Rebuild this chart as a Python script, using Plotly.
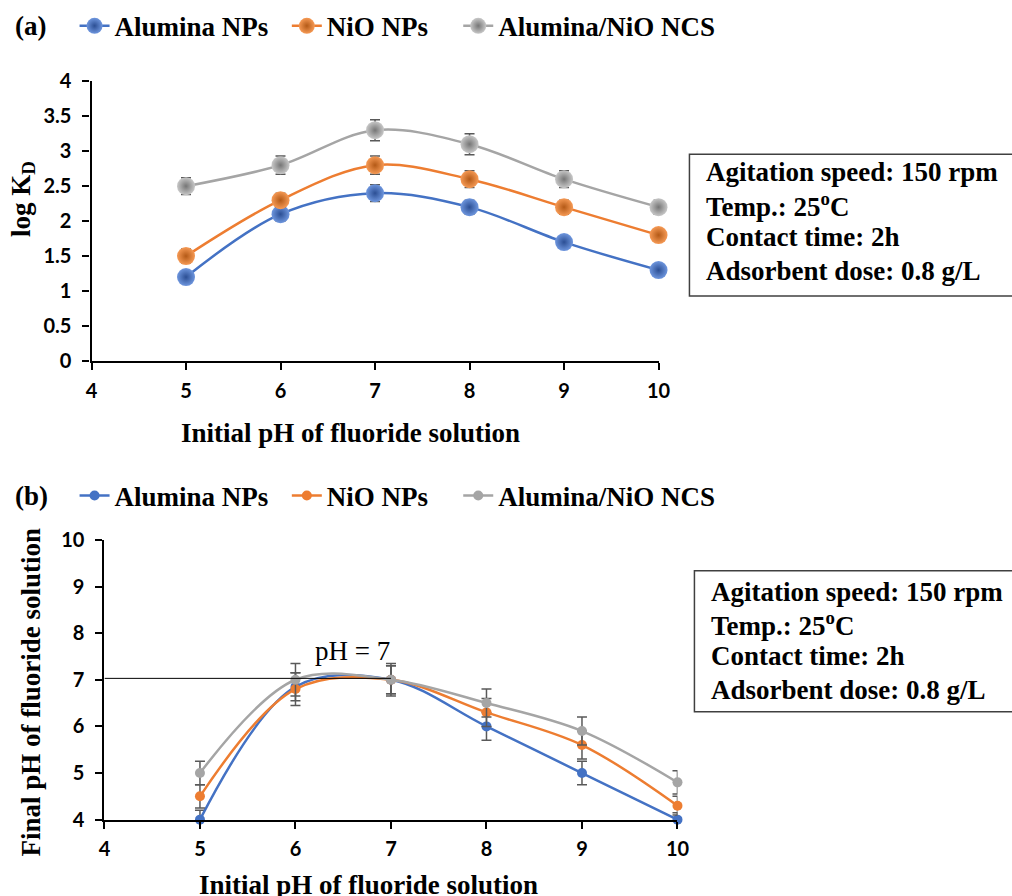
import plotly.graph_objects as go

# ---------------- data ----------------
ph_initial = [5, 6, 7, 8, 9, 10]
series_names = ["Alumina NPs", "NiO NPs", "Alumina/NiO NCS"]
colors = ["#4472C4", "#ED7D31", "#A5A5A5"]
center_colors = ["#6E96DE", "#F69A55", "#C8C8C8"]
edge_colors = ["#2C4F94", "#B45A17", "#767676"]

# panel (a): log KD
logkd_alumina = [1.2, 2.1, 2.4, 2.2, 1.7, 1.3]
logkd_nio = [1.5, 2.3, 2.8, 2.6, 2.2, 1.8]
logkd_ncs = [2.5, 2.8, 3.3, 3.1, 2.6, 2.2]
err_a_alumina = [0.08, 0.1, 0.12, 0.1, 0.08, 0.08]
err_a_nio = [0.1, 0.1, 0.13, 0.12, 0.1, 0.08]
err_a_ncs = [0.12, 0.13, 0.15, 0.15, 0.12, 0.1]

# panel (b): final pH
final_alumina = [4.0, 6.85, 7.0, 6.0, 5.0, 4.0]
final_nio = [4.5, 6.8, 7.0, 6.3, 5.6, 4.3]
final_ncs = [5.0, 7.0, 7.0, 6.5, 5.9, 4.8]
err_b_alumina = [0.2, 0.3, 0.3, 0.3, 0.25, 0.15]
err_b_nio = [0.25, 0.35, 0.3, 0.3, 0.3, 0.2]
err_b_ncs = [0.25, 0.35, 0.35, 0.3, 0.3, 0.25]

neutral_ph = 7

box_lines = ["Agitation speed: 150 rpm", "Temp.: 25<sup>o</sup>C",
             "Contact time: 2h", "Adsorbent dose: 0.8 g/L"]

W, H = 1012, 896
SERIF = "Liberation Serif"
SANS = "Lato"

# calibration of page placement (target pixel -> figure pixel)
SX, OX = 0.9856, 5.2
SY, OY = 0.974, 13.7


def px(xr):
    return ((xr - OX) / SX) / W


def py(yr):
    return 1 - ((yr - OY) / SY) / H


fig = go.Figure()

legend_ids_a = ["legend", "legend2", "legend3"]
legend_ids_b = ["legend4", "legend5", "legend6"]

# ---------- panel (a) traces ----------
for name, ys, es, c, cc, ec, lg in zip(series_names, [logkd_alumina, logkd_nio, logkd_ncs],
                                       [err_a_alumina, err_a_nio, err_a_ncs], colors,
                                       center_colors, edge_colors, legend_ids_a):
    fig.add_trace(go.Scatter(
        x=ph_initial, y=ys, name=name, mode="lines+markers",
        line=dict(color=c, width=2.5, shape="spline", smoothing=1.0),
        marker=dict(size=18, color=cc, gradient=dict(type="radial", color=ec),
                    line=dict(width=0)),
        error_y=dict(type="data", array=es, color="#595959", thickness=1.5, width=5),
        xaxis="x", yaxis="y", legend=lg, cliponaxis=False,
    ))

# ---------- panel (b) traces ----------
for name, ys, es, c, lg in zip(series_names, [final_alumina, final_nio, final_ncs],
                               [err_b_alumina, err_b_nio, err_b_ncs], colors, legend_ids_b):
    fig.add_trace(go.Scatter(
        x=ph_initial, y=ys, name=name, mode="lines+markers",
        line=dict(color=c, width=2.5, shape="spline", smoothing=1.0),
        marker=dict(size=10, color=c),
        error_y=dict(type="data", array=es, color="#595959", thickness=1.5, width=5),
        xaxis="x2", yaxis="y2", legend=lg, cliponaxis=False,
    ))

axis_common = dict(showline=True, linecolor="black", linewidth=2.2, ticks="outside",
                   ticklen=7, tickwidth=2.2, tickcolor="black", showgrid=False, zeroline=False,
                   tickfont=dict(family=SANS, size=20, color="black", weight="bold"))

legend_common = dict(orientation="h", xanchor="left", yanchor="middle",
                     font=dict(family=SERIF, size=27, color="black", weight="bold"),
                     bgcolor="rgba(0,0,0,0)", itemclick=False)

layout_kw = dict(
    width=W, height=H, margin=dict(l=0, r=0, t=0, b=0),
    paper_bgcolor="white", plot_bgcolor="white",
    xaxis=dict(domain=[px(91), px(660)], range=[4, 10], dtick=1, anchor="y",
               ticklabelstandoff=4, **axis_common),
    yaxis=dict(domain=[py(362), py(82)], range=[0, 4], dtick=0.5, anchor="x",
               ticklabelstandoff=7, **axis_common),
    xaxis2=dict(domain=[px(104), px(679)], range=[4, 10], dtick=1, anchor="y2",
                ticklabelstandoff=3, **axis_common),
    yaxis2=dict(domain=[py(821), py(541)], range=[4, 10], dtick=1, anchor="x2",
                ticklabelstandoff=7, **axis_common),
    showlegend=True,
)
for lg, xr in zip(legend_ids_a, [74, 287, 459]):
    layout_kw[lg] = dict(x=px(xr), y=py(27), **legend_common)
for lg, xr in zip(legend_ids_b, [74, 287, 459]):
    layout_kw[lg] = dict(x=px(xr), y=py(497), **legend_common)
fig.update_layout(**layout_kw)

ann = []
title_font = dict(family=SERIF, size=27, color="black", weight="bold")
ann.append(dict(text="(a)", x=px(12), y=py(27), xref="paper", yref="paper", xanchor="left",
                yanchor="middle", showarrow=False, font=title_font))
ann.append(dict(text="(b)", x=px(12), y=py(497), xref="paper", yref="paper", xanchor="left",
                yanchor="middle", showarrow=False, font=title_font))
ann.append(dict(text="Initial pH of fluoride solution", x=px(351), y=py(434), xref="paper",
                yref="paper", xanchor="center", yanchor="middle", showarrow=False, font=title_font))
ann.append(dict(text="Initial pH of fluoride solution", x=px(369), y=py(886), xref="paper",
                yref="paper", xanchor="center", yanchor="middle", showarrow=False, font=title_font))
ann.append(dict(text="log K<sub>D</sub>", x=px(22), y=py(200), xref="paper", yref="paper",
                xanchor="center", yanchor="middle", textangle=-90, showarrow=False, font=title_font))
ann.append(dict(text="Final pH of fluoride solution", x=px(30), y=py(693), xref="paper",
                yref="paper", xanchor="center", yanchor="middle", textangle=-90, showarrow=False,
                font=title_font))
ann.append(dict(text="pH = 7", x=6.6, y=7.62, xref="x2", yref="y2", xanchor="center",
                yanchor="middle", showarrow=False,
                font=dict(family=SERIF, size=27, color="black")))

box_font = dict(family=SERIF, size=27, color="black", weight="bold")
for yl, t in zip([173, 206, 238, 272], box_lines):
    ann.append(dict(text=t, x=px(706), y=py(yl), xref="paper", yref="paper", xanchor="left",
                    yanchor="middle", showarrow=False, font=box_font))
for yl, t in zip([593, 625, 657, 691], box_lines):
    ann.append(dict(text=t, x=px(711), y=py(yl), xref="paper", yref="paper", xanchor="left",
                    yanchor="middle", showarrow=False, font=box_font))
fig.update_layout(annotations=ann)

shapes = [
    dict(type="rect", xref="paper", yref="paper", x0=px(691), x1=px(1060), y0=py(297), y1=py(155),
         line=dict(color="#404040", width=1.5), fillcolor="rgba(0,0,0,0)"),
    dict(type="rect", xref="paper", yref="paper", x0=px(696), x1=px(1060), y0=py(713), y1=py(572),
         line=dict(color="#404040", width=1.5), fillcolor="rgba(0,0,0,0)"),
    dict(type="line", xref="x2", yref="y2", x0=4, x1=7, y0=neutral_ph + 0.03, y1=neutral_ph + 0.03,
         line=dict(color="black", width=1)),
]
fig.update_layout(shapes=shapes)

fig.write_html("out.html")
